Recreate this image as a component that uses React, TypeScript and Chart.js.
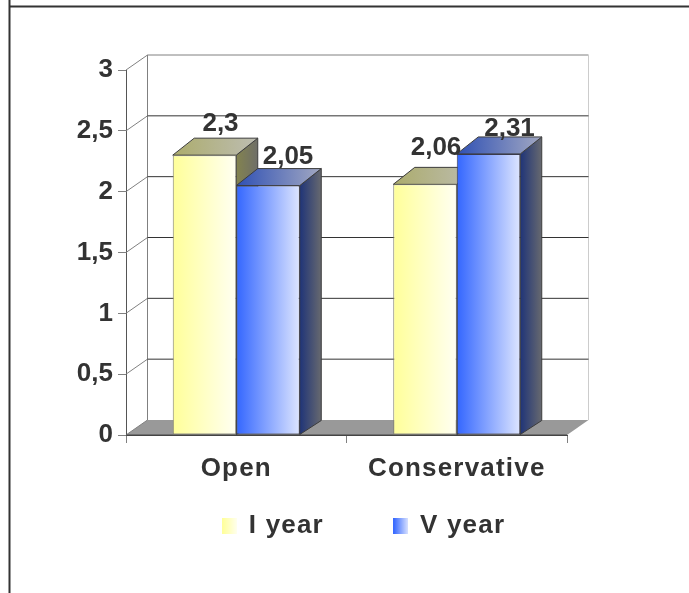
import React, { useEffect, useRef } from "react";
import { Chart, registerables } from "chart.js";

Chart.register(...registerables);

const categories = ["Open", "Conservative"];
const seriesNames = ["I year", "V year"];
const iYearValues = [2.3, 2.06];
const vYearValues = [2.05, 2.31];
const valueTicks = [0, 0.5, 1, 1.5, 2, 2.5, 3];

const FONT = '"Liberation Sans", Arial, sans-serif';
const INK = "#333333";
const TEXT_SIZE = 26;

// Oblique offsets of the 3D box: the walls and floor recede by one amount,
// bar tops and bases by slightly different ones.
const DEPTH_X = 21.5;
const WALL_RISE = 15;
const BAR_TOP_RISE = 17;
const BAR_BASE_RISE = 14;

// Per-label placement of the value captions, relative to the bar's front top centre.
const captionNudges = [
  [[16, -24], [11, -29]],
  [[20, -22], [21, -18]],
];

const palettes = [
  {
    front: ["#FFFF99", "#FFFFF2"],
    top: ["#ACAC6C", "#BDBDB2"],
    side: ["#83834F", "#6E6E68"],
    swatch: ["#FFFF99", "#FFFFF0"],
  },
  {
    front: ["#3366FF", "#DDE5FF"],
    top: ["#2F50B4", "#A2A8C2"],
    side: ["#1F3478", "#67696F"],
    swatch: ["#3366FF", "#DDE5FF"],
  },
];

const CATEGORY_SHARE = 0.576;

function horizontalGradient(ctx: CanvasRenderingContext2D, x0: number, x1: number, stops: string[]) {
  const g = ctx.createLinearGradient(x0, 0, x1, 0);
  g.addColorStop(0, stops[0]);
  g.addColorStop(1, stops[1]);
  return g;
}

function swatchImage(stops: string[]) {
  const c = document.createElement("canvas");
  c.width = 15;
  c.height = 16;
  const ctx = c.getContext("2d")!;
  ctx.fillStyle = horizontalGradient(ctx, 0, 15, stops);
  ctx.fillRect(0, 0, 15, 16);
  return c;
}

function polygon(ctx: CanvasRenderingContext2D, pts: number[][], fill: any, stroke?: string) {
  ctx.beginPath();
  pts.forEach(([x, y], i) => (i ? ctx.lineTo(x, y) : ctx.moveTo(x, y)));
  ctx.closePath();
  ctx.fillStyle = fill;
  ctx.fill();
  if (stroke) {
    ctx.strokeStyle = stroke;
    ctx.lineWidth = 1;
    ctx.stroke();
  }
}

function line(ctx: CanvasRenderingContext2D, x0: number, y0: number, x1: number, y1: number, color: string, width = 1) {
  ctx.beginPath();
  ctx.moveTo(x0, y0);
  ctx.lineTo(x1, y1);
  ctx.strokeStyle = color;
  ctx.lineWidth = width;
  ctx.stroke();
}

// Frame, back wall, floor, receding gridlines and the bars' top and side faces.
const boxPlugin = {
  id: "box3d",
  beforeLayout(chart: any) {
    chart.ctx.letterSpacing = "1.2px";
  },
  afterLayout(chart: any) {
    // The legend sits under the axis labels, off-centre towards the right.
    chart.legend.left += 81;
    chart.legend.right += 81;
    chart.legend.top -= 49;
    chart.legend.bottom -= 49;
    const y = chart.scales.y;
    if (!y.__plainLabels) {
      const draw = y.drawLabels;
      y.drawLabels = function (area: any) {
        chart.ctx.letterSpacing = "0px";
        draw.call(this, area);
        chart.ctx.letterSpacing = "1.2px";
      };
      y.__plainLabels = true;
    }
  },
  beforeDraw(chart: any) {
    const ctx = chart.ctx;
    ctx.letterSpacing = "1.2px";
    line(ctx, 9, 6.5, chart.width, 6.5, "#333333", 2);
    line(ctx, 9.5, 0, 9.5, chart.height, "#333333", 2);
  },
  beforeDatasetsDraw(chart: any) {
    const ctx = chart.ctx;
    const { left, right, top, bottom } = chart.chartArea;
    const y = chart.scales.y;
    ctx.save();

    polygon(ctx, [[left, bottom], [left + DEPTH_X, bottom - WALL_RISE], [right + DEPTH_X, bottom - WALL_RISE], [right, bottom]], "#999999");

    const backLeft = left + DEPTH_X;
    const backRight = right + DEPTH_X;
    line(ctx, backLeft, top - WALL_RISE, backRight, top - WALL_RISE, "#808080");
    line(ctx, backLeft, top - WALL_RISE, backLeft, bottom - WALL_RISE, "#808080");
    line(ctx, backRight, top - WALL_RISE, backRight, bottom - WALL_RISE, "#cccccc");
    y.ticks.forEach((tick: any, i: number) => {
      const py = y.getPixelForTick(i);
      line(ctx, left, py, backLeft, py - WALL_RISE, "#808080");
      if (tick.value > 0 && tick.value < 3) {
        line(ctx, backLeft, py - WALL_RISE, backRight, py - WALL_RISE, "#333333");
      }
    });
    line(ctx, left, bottom, right, bottom, "#444444");

    chart.data.datasets.forEach((_: any, di: number) => {
      const pal = palettes[di];
      chart.getDatasetMeta(di).data.forEach((bar: any) => {
        const { x, y: barTop, base, width } = bar.getProps(["x", "y", "base", "width"], true);
        const x0 = x - width / 2;
        const x1 = x + width / 2;
        const edge = "#3c3c3c";
        polygon(
          ctx,
          [[x1, barTop], [x1 + DEPTH_X, barTop - BAR_TOP_RISE], [x1 + DEPTH_X, base - BAR_BASE_RISE], [x1, base]],
          horizontalGradient(ctx, x1, x1 + DEPTH_X, pal.side),
          edge
        );
        polygon(
          ctx,
          [[x0, barTop], [x0 + DEPTH_X, barTop - BAR_TOP_RISE], [x1 + DEPTH_X, barTop - BAR_TOP_RISE], [x1, barTop]],
          horizontalGradient(ctx, x0, x1 + DEPTH_X, pal.top),
          edge
        );
      });
    });
    ctx.restore();
  },
  afterDatasetsDraw(chart: any) {
    const ctx = chart.ctx;
    ctx.save();
    ctx.letterSpacing = "0px";
    ctx.font = `bold ${TEXT_SIZE}px ${FONT}`;
    ctx.fillStyle = INK;
    ctx.textAlign = "center";
    ctx.textBaseline = "alphabetic";
    chart.data.datasets.forEach((ds: any, di: number) => {
      chart.getDatasetMeta(di).data.forEach((bar: any, i: number) => {
        const { x, y } = bar.getProps(["x", "y"], true);
        const [dx, dy] = captionNudges[di][i];
        ctx.fillText(String(ds.data[i]).replace(".", ","), x + dx, y + dy);
      });
    });
    ctx.restore();
  },
};

function frontFill(di: number) {
  return (c: any) => {
    if (c.type !== "data") return palettes[di].front[0];
    const xs = c.chart.scales.x;
    const group = (xs.width / categories.length) * CATEGORY_SHARE;
    const w = group / 2;
    const left = xs.getPixelForValue(c.dataIndex) - group / 2 + di * w;
    return horizontalGradient(c.chart.ctx, left, left + w, palettes[di].front);
  };
}

export default function App() {
  const ref = useRef<HTMLCanvasElement>(null);

  useEffect(() => {
    const chart = new Chart(ref.current!, {
      type: "bar",
      data: {
        labels: categories,
        datasets: [iYearValues, vYearValues].map((data, di) => ({
          label: seriesNames[di],
          data,
          backgroundColor: frontFill(di),
          borderColor: di ? "#3a3a4a" : "#808070",
          borderWidth: 1,
          borderSkipped: false,
          categoryPercentage: CATEGORY_SHARE,
          barPercentage: 1,
        })),
      },
      options: {
        responsive: false,
        animation: false,
        devicePixelRatio: 1,
        layout: { padding: { top: 70, right: 122, left: 0, bottom: -5 } },
        plugins: {
          tooltip: { enabled: false },
          legend: {
            position: "bottom",
            labels: {
              usePointStyle: true,
              pointStyleWidth: 12,
              boxHeight: 16,
              padding: 71,
              color: INK,
              font: { family: FONT, size: TEXT_SIZE, weight: "bold" },
              generateLabels: () =>
                seriesNames.map((text, i) => ({
                  text,
                  datasetIndex: i,
                  pointStyle: swatchImage(palettes[i].swatch),
                  fontColor: INK,
                  lineWidth: 0,
                  strokeStyle: "transparent",
                  fillStyle: "transparent",
                })),
            },
          },
        },
        scales: {
          x: {
            afterFit: (s: any) => {
              s.height = 56;
            },
            grid: { drawOnChartArea: false, tickLength: 8, color: "#808080" },
            border: { color: "#444444" },
            ticks: {
              color: INK,
              padding: 10,
              maxRotation: 0,
              font: { family: FONT, size: TEXT_SIZE, weight: "bold" },
            },
          },
          y: {
            min: 0,
            max: 3,
            afterFit: (s: any) => {
              s.width = 126;
            },
            afterBuildTicks: (s: any) => {
              s.ticks = valueTicks.map((value) => ({ value }));
            },
            grid: { drawOnChartArea: false, tickLength: 8, color: "#808080" },
            border: { color: "#555555" },
            ticks: {
              color: INK,
              padding: 5,
              font: { family: FONT, size: TEXT_SIZE, weight: "bold" },
              callback: (v: any) => String(v).replace(".", ","),
            },
          },
        },
      },
      plugins: [boxPlugin],
    } as any);
    return () => chart.destroy();
  }, []);

  return (
    <canvas
      ref={ref}
      width={689}
      height={593}
      style={{ position: "fixed", left: 0, top: 0, width: 689, height: 593, display: "block" }}
    />
  );
}
